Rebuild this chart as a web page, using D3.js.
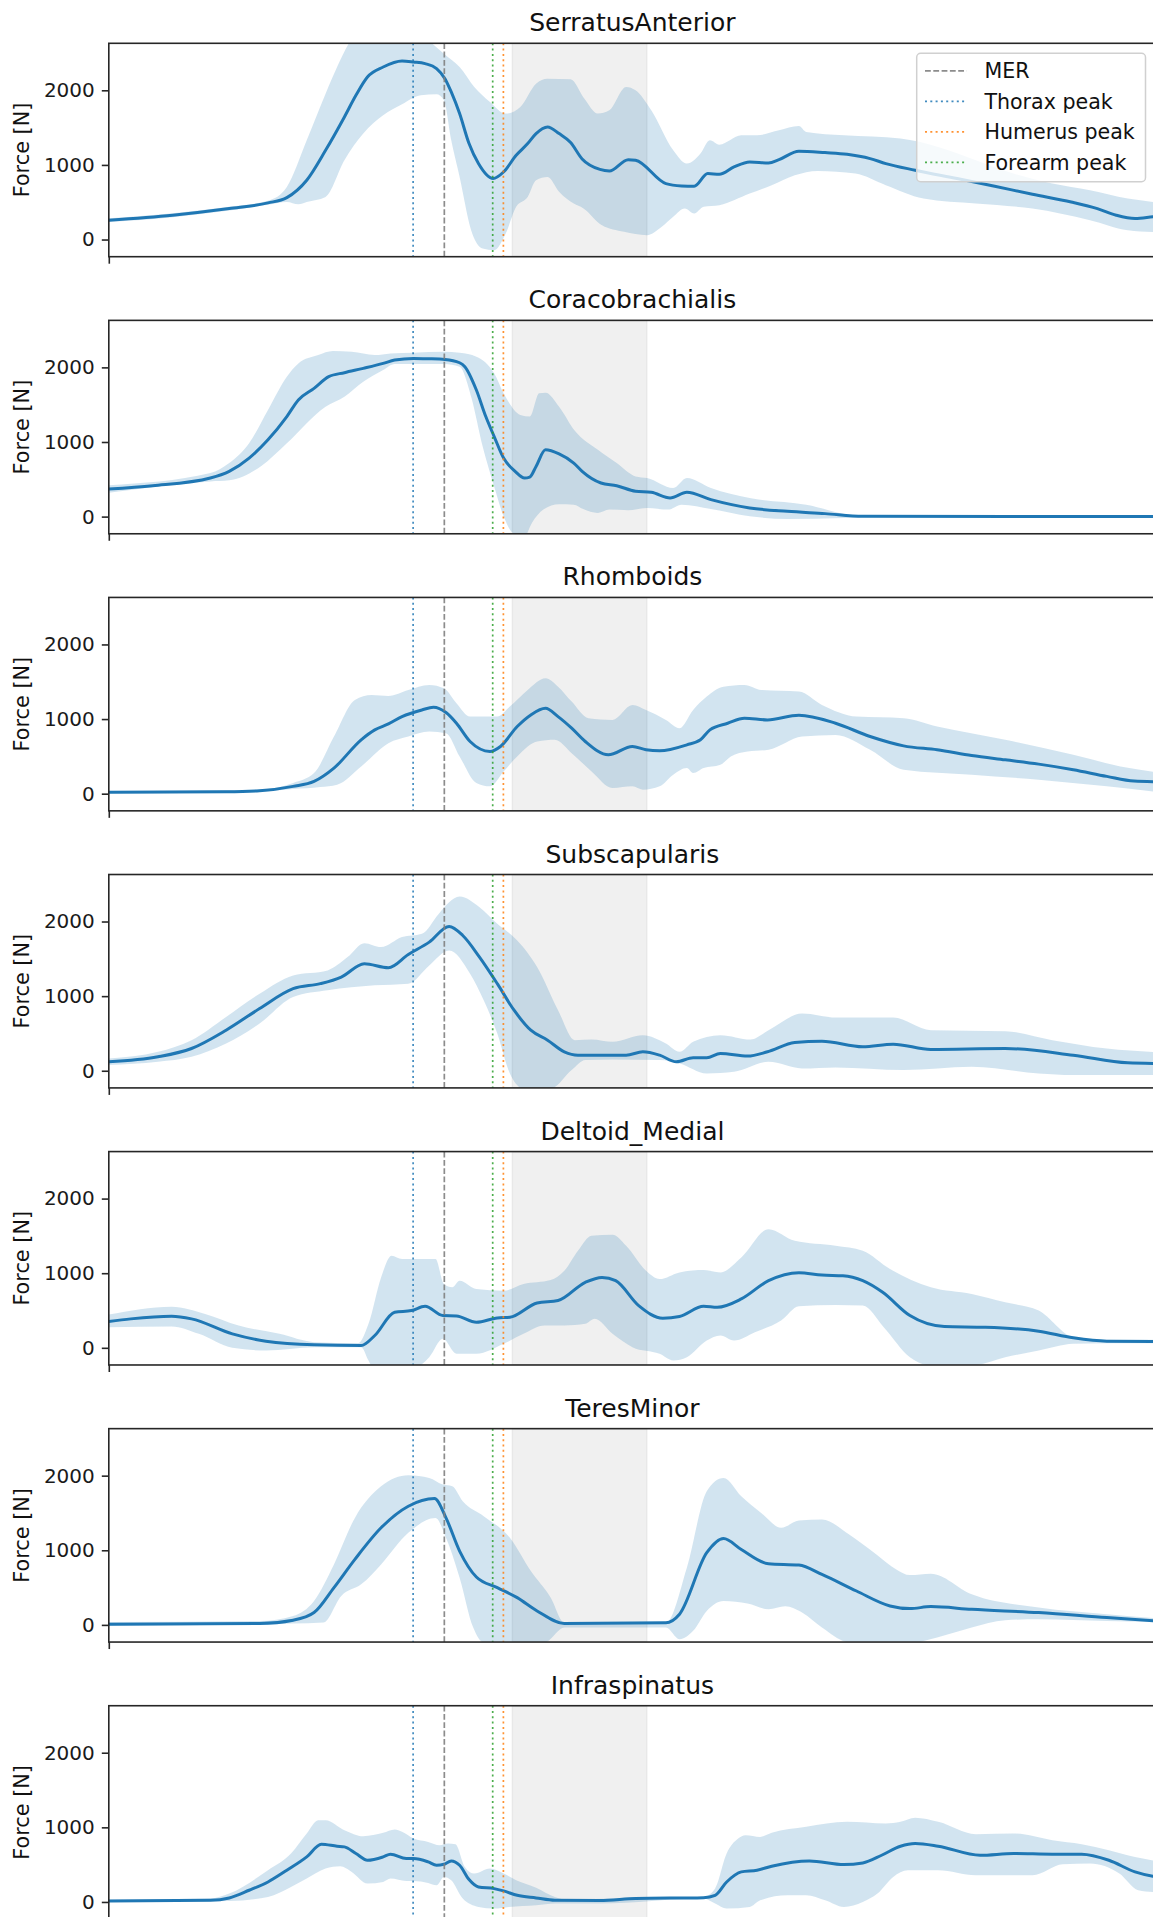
<!DOCTYPE html>
<html><head><meta charset="utf-8">
<script src="https://cdn.jsdelivr.net/npm/d3@7"></script>
<style>body{margin:0;background:#fff} svg{display:block} text{font-family:"DejaVu Sans",sans-serif}</style>
</head><body><svg id="chart" width="1153" height="1917"></svg>
<script>
// ---------- data ----------
const muscles = ["SerratusAnterior","Coracobrachialis","Rhomboids","Subscapularis","Deltoid_Medial","TeresMinor","Infraspinatus"];
const yTicks = [0, 1000, 2000];
const yDomain = [-230, 2630];
const eventNames = ["MER", "Thorax peak", "Humerus peak", "Forearm peak"];
const eventX = [32.04, 29.06, 37.68, 36.66];
const eventColors = ["#808080", "#1f77b4", "#ff7f0e", "#2ca02c"];
const shadedPhase = [38.53, 51.39];

const serratusMean = [[0,259],[6.1,326],[11.5,415],[15.2,491],[17.0,562],[18.9,795],[20.7,1196],[22.5,1643],[23.6,1933],[24.7,2179],[26.2,2312],[28.0,2393],[29.1,2379],[30.2,2357],[31.3,2290],[32.1,2156],[32.7,1978],[33.5,1688],[34.4,1286],[35.3,1018],[36.7,817],[37.7,906],[38.9,1129],[40.0,1286],[40.8,1420],[41.9,1509],[43.0,1420],[44.1,1300],[45.2,1080],[46.9,940],[47.8,920],[49.6,1071],[50.3,1063],[53.2,750],[54.7,719],[55.9,714],[57.2,884],[58.3,875],[59.7,973],[61.2,1040],[63.0,1027],[64.0,1071],[65.9,1183],[68.4,1165],[70.5,1143],[72.7,1085],[74.2,1018],[77.0,929],[81.0,817],[84.6,714],[88.2,607],[91.9,504],[94.4,415],[96.2,326],[98.0,281],[99.7,304],[100,308]];
const serratusHi = [[0,285],[6.1,352],[11.5,440],[15.2,520],[17.0,705],[18.9,1330],[20.7,1955],[21.8,2312],[22.9,2625],[24.3,2850],[26.2,2950],[28.0,2900],[30.0,2750],[30.9,2625],[32.0,2491],[33.5,2312],[34.9,2045],[36.4,1844],[37.9,1688],[39.3,1777],[40.8,2089],[41.9,2156],[44.1,2147],[45.4,1890],[46.7,1688],[47.8,1732],[49.4,2045],[50.3,2000],[51.8,1732],[53.9,1196],[55.2,1018],[56.5,1152],[57.4,1330],[58.3,1272],[60.4,1397],[61.9,1397],[64.0,1464],[65.9,1522],[66.6,1442],[70.2,1397],[75.6,1353],[79.2,1241],[82.8,1063],[86.4,884],[90.1,750],[93.7,661],[97.3,549],[100,500]];
const serratusLo = [[0,235],[6.1,300],[11.5,390],[15.2,465],[17.0,504],[18.1,473],[18.9,504],[20.7,571],[22.5,1063],[24.3,1420],[26.2,1665],[28.0,1813],[29.8,1933],[31.3,1946],[32.0,1866],[32.7,1330],[33.5,839],[34.6,125],[35.7,-121],[36.8,-143],[37.9,80],[38.9,438],[40.0,571],[40.8,795],[41.9,839],[43.0,640],[44.4,482],[45.3,420],[47.1,190],[49.2,103],[51.4,58],[52.8,170],[53.9,304],[55.0,415],[55.9,348],[56.8,438],[58.3,460],[61.2,616],[63.3,728],[65.5,862],[67.7,920],[71.3,884],[74.2,728],[77.8,549],[82.8,482],[88.2,415],[93.7,259],[97.3,125],[100,100]];

const coracoMean = [[0,370],[4.2,414],[9.7,517],[11.5,606],[13.4,784],[15.2,1029],[17.0,1341],[18.1,1563],[19.6,1719],[21.0,1875],[22.5,1929],[24.3,1987],[26.2,2053],[27.3,2098],[29.1,2120],[30.5,2116],[32.1,2107],[33.5,2062],[34.0,2009],[35.1,1697],[36.0,1341],[36.8,1073],[37.7,784],[38.8,606],[39.7,517],[40.2,530],[40.8,673],[41.7,895],[43.0,840],[44.4,717],[45.2,606],[47.0,450],[48.5,414],[50.3,339],[51.8,325],[53.6,249],[55.2,325],[57.5,227],[61.2,116],[64.8,71],[68.4,40],[72.0,4],[100,2]];
const coracoHi = [[0,420],[9.7,584],[11.5,717],[13.4,984],[15.2,1430],[17.0,1875],[18.1,2053],[20.0,2165],[21.4,2218],[23.2,2209],[25.4,2165],[26.9,2187],[29.1,2196],[32.0,2209],[33.5,2196],[35.1,2143],[36.8,1920],[37.7,1653],[39.3,1363],[40.2,1341],[41.1,1653],[41.7,1661],[43.0,1474],[44.5,1150],[46.7,895],[48.5,717],[50.3,539],[51.4,517],[53.9,383],[55.2,517],[57.5,383],[61.2,249],[66.6,160],[71.3,13],[72.0,8],[100,6]];
const coracoLo = [[0,320],[9.7,472],[11.5,486],[14.5,673],[17.0,984],[20.7,1474],[22.5,1608],[24.3,1808],[26.2,1964],[27.3,2045],[32.0,2045],[33.5,2009],[34.6,1608],[35.7,940],[36.8,405],[37.7,4],[38.6,-218],[39.7,-263],[40.4,-85],[41.5,94],[43.0,165],[44.4,160],[45.3,102],[46.7,49],[47.8,94],[49.6,85],[51.4,116],[53.4,94],[54.7,160],[57.5,102],[61.2,4],[64.8,-31],[70.2,-18],[73.8,0],[100,0]];

const rhomMean = [[0,18],[11.2,27],[14.4,40],[17.6,98],[19.6,165],[21.5,343],[24.1,722],[25.4,855],[26.7,935],[28.0,1033],[29.9,1122],[31.0,1158],[32.2,1087],[33.2,944],[34.5,699],[36.4,566],[37.4,633],[39.0,900],[40.3,1056],[41.7,1145],[42.9,1033],[44.2,878],[45.5,699],[47.7,521],[50.0,633],[51.3,588],[52.6,575],[55.2,655],[56.5,722],[57.4,855],[59.1,944],[60.7,1011],[62.9,989],[65.9,1051],[69.4,944],[72.7,766],[75.9,641],[79.1,588],[82.4,512],[85.6,454],[88.8,396],[92.1,321],[95.3,232],[97.9,169],[100,160]];
const rhomHi = [[0,35],[14.4,55],[17.6,143],[19.6,276],[21.5,766],[23.5,1256],[25.1,1323],[26.7,1310],[28.6,1390],[30.6,1457],[32.0,1412],[33.2,1212],[34.5,1033],[37.1,1033],[38.3,1167],[40.0,1390],[41.7,1546],[42.9,1434],[44.2,1234],[45.8,1011],[48.1,989],[50.0,1189],[51.3,1122],[53.2,989],[54.5,878],[55.8,1122],[57.1,1301],[58.7,1434],[60.7,1457],[62.3,1390],[65.9,1368],[68.1,1189],[71.4,1033],[75.9,1011],[79.1,900],[85.6,722],[92.1,521],[96.6,365],[100,290]];
const rhomLo = [[0,5],[14.4,25],[17.6,62],[20.2,89],[21.8,120],[24.1,365],[26.7,677],[28.6,766],[30.6,833],[32.2,811],[33.5,499],[35.1,143],[36.4,98],[37.7,298],[39.0,499],[40.9,699],[42.6,722],[44.2,543],[46.1,298],[48.1,76],[50.0,98],[51.0,53],[52.6,98],[53.9,254],[55.2,343],[55.8,276],[56.8,343],[58.4,387],[59.4,499],[61.0,566],[63.0,588],[66.2,766],[69.4,788],[72.7,588],[75.9,321],[82.4,254],[88.8,187],[95.3,98],[100,25]];

const subMean = [[0,120],[4.7,187],[7.9,298],[11.2,543],[14.4,833],[17.6,1100],[20.2,1167],[22.2,1256],[24.4,1434],[26.7,1381],[28.6,1559],[30.6,1724],[32.5,1933],[33.8,1813],[35.4,1523],[37.1,1167],[38.7,811],[40.3,543],[41.9,410],[43.5,254],[44.8,209],[49.4,209],[51.0,254],[52.6,209],[54.2,120],[55.8,174],[57.1,174],[58.4,232],[61.0,196],[62.9,254],[65.5,379],[68.1,396],[72.0,321],[74.9,356],[78.5,285],[85.6,298],[92.1,209],[97.3,107],[100,98]];
const subHi = [[0,165],[4.7,254],[7.9,410],[11.2,722],[14.4,1033],[17.6,1278],[20.9,1345],[22.8,1523],[24.4,1710],[26.0,1657],[28.0,1791],[29.9,1835],[31.5,2102],[32.5,2258],[33.5,2334],[35.4,2191],[37.1,1969],[39.0,1746],[40.9,1390],[42.9,811],[44.5,410],[46.1,419],[48.1,388],[51.0,477],[53.2,365],[54.5,254],[55.8,388],[58.4,477],[61.3,419],[63.0,543],[66.2,766],[69.4,713],[74.9,713],[78.5,543],[85.6,530],[90.1,410],[95.3,298],[100,250]];
const subLo = [[0,76],[4.7,120],[7.9,187],[11.2,365],[14.4,633],[17.6,989],[20.9,1078],[25.4,1145],[28.6,1167],[30.6,1412],[32.5,1612],[34.5,1301],[35.8,944],[37.1,499],[38.3,-36],[39.6,-236],[42.2,-236],[44.2,9],[45.5,143],[48.1,151],[52.6,143],[54.5,98],[57.1,-36],[59.7,-13],[63.0,120],[66.2,31],[69.4,45],[75.9,9],[82.4,53],[88.8,-36],[92.1,-58],[100,-58]];

const deltMean = [[0,352],[2.1,388],[6.0,423],[7.9,388],[11.8,187],[15.0,89],[19.6,40],[24.1,31],[25.4,165],[27.3,477],[28.9,499],[30.2,557],[31.9,432],[33.2,427],[35.1,343],[37.1,401],[38.3,410],[40.9,601],[42.9,633],[45.5,878],[47.1,944],[48.4,900],[50.6,566],[52.9,396],[54.5,419],[56.8,557],[58.1,543],[60.4,655],[63.0,900],[65.9,1007],[68.1,975],[70.1,966],[72.0,900],[73.9,744],[76.5,432],[79.8,285],[83.7,276],[88.8,223],[92.1,134],[95.3,89],[100,85]];
const deltHi = [[0,445],[6.0,552],[9.2,454],[12.4,298],[16.3,187],[19.6,76],[23.8,62],[24.8,321],[26.0,944],[27.0,1234],[28.0,1189],[31.2,1189],[32.0,855],[32.8,811],[33.5,900],[35.1,788],[37.7,766],[39.6,855],[42.2,909],[43.5,1033],[44.8,1301],[46.1,1501],[48.1,1514],[49.4,1368],[51.3,1033],[52.6,922],[54.5,1011],[56.8,1042],[58.4,1011],[60.4,1212],[63.0,1590],[65.5,1434],[69.4,1368],[72.0,1301],[74.6,1056],[78.5,811],[82.4,722],[85.6,610],[88.8,499],[92.1,143],[95.3,107],[100,107]];
const deltLo = [[0,276],[6.0,285],[8.6,187],[11.8,0],[15.0,-36],[19.6,9],[24.1,9],[24.8,-169],[25.4,-303],[28.6,-303],[30.6,-125],[31.9,120],[33.2,-80],[35.1,-80],[37.7,53],[39.6,187],[41.6,298],[43.5,298],[45.5,321],[46.4,388],[48.1,187],[50.0,9],[52.6,-80],[53.9,-169],[55.2,-125],[57.1,98],[58.4,165],[59.7,98],[61.7,209],[64.2,365],[65.9,557],[69.4,575],[72.0,566],[74.0,276],[76.5,-125],[78.5,-236],[82.4,-236],[85.6,-125],[88.8,-36],[92.1,53],[95.3,62],[100,62]];

const teresMean = [[0,9],[14.4,18],[17.6,62],[19.6,165],[21.5,499],[23.5,878],[26.0,1301],[28.6,1590],[31.1,1693],[32.2,1434],[33.5,989],[35.1,641],[37.1,499],[39.0,365],[40.9,187],[43.5,18],[53.2,27],[54.5,143],[57.1,967],[58.7,1158],[60.4,1011],[63.0,820],[65.9,802],[68.1,677],[71.4,454],[74.6,254],[76.5,218],[78.5,245],[82.4,209],[88.8,165],[95.3,98],[100,53]];
const teresHi = [[0,40],[14.4,53],[17.6,120],[19.6,321],[21.5,811],[23.5,1434],[26.0,1857],[28.6,2004],[30.6,1969],[31.9,1880],[32.8,1857],[33.8,1657],[35.8,1457],[38.3,1167],[40.3,722],[42.2,365],[43.5,31],[53.2,31],[55.2,766],[57.1,1791],[58.7,1969],[60.4,1724],[62.3,1501],[64.2,1301],[65.9,1399],[68.1,1412],[70.7,1212],[73.3,944],[75.2,744],[76.5,668],[78.5,686],[82.4,410],[88.8,232],[95.3,143],[100,89]];
const teresLo = [[0,-13],[17.6,18],[20.5,31],[22.2,388],[24.1,543],[26.0,811],[28.6,1234],[31.2,1434],[32.2,1167],[33.5,633],[34.8,-36],[35.8,-236],[41.6,-236],[43.5,-36],[53.2,-36],[54.5,-192],[55.8,-80],[57.1,187],[58.7,321],[61.0,285],[63.0,209],[64.6,249],[66.2,165],[68.1,-36],[70.7,-236],[75.9,-258],[79.1,-169],[82.4,-36],[85.6,62],[88.8,76],[95.3,53],[100,40]];

const infraMean = [[0,13],[9.7,22],[11.5,54],[13.4,157],[15.2,268],[17.0,425],[18.9,604],[20.3,774],[21.8,747],[22.5,738],[23.6,649],[24.7,559],[26.2,604],[26.9,640],[28.4,582],[29.1,582],[30.5,537],[31.3,492],[32.0,505],[32.7,550],[33.5,492],[34.4,300],[35.3,201],[36.8,179],[37.7,148],[39.0,89],[40.8,54],[42.6,22],[46.9,18],[50.3,45],[56.8,58],[57.9,89],[59.0,268],[60.4,403],[61.9,425],[63.3,479],[66.9,550],[70.2,501],[72.0,523],[73.8,626],[75.6,747],[77.0,783],[79.2,747],[83.2,626],[86.4,649],[90.1,640],[92.9,640],[95.5,559],[98.0,403],[99.7,345],[100,340]];
const infraHi = [[0,31],[9.7,45],[11.5,112],[15.2,425],[17.4,649],[18.9,917],[20.0,1096],[20.7,1096],[22.5,962],[24.3,881],[26.2,926],[27.3,971],[28.0,940],[29.1,850],[30.5,805],[31.6,761],[32.4,783],[33.1,774],[34.0,470],[34.9,380],[36.4,447],[37.7,380],[38.9,291],[40.8,192],[42.6,67],[43.7,31],[50.3,55],[56.8,67],[57.9,179],[59.0,649],[60.1,850],[60.8,895],[62.2,872],[63.3,926],[66.6,1007],[70.5,1074],[74.2,1051],[75.6,1074],[77.0,1128],[79.2,1074],[82.8,908],[86.4,917],[90.1,828],[92.9,774],[95.5,694],[98.0,604],[100,550]];
const infraLo = [[0,0],[11.5,13],[15.2,67],[17.4,201],[18.9,313],[20.7,447],[22.1,479],[23.2,403],[24.7,246],[26.2,268],[26.9,313],[28.4,282],[29.1,282],[30.5,255],[31.3,224],[32.0,336],[32.7,291],[33.8,45],[35.3,-67],[36.8,-89],[38.2,-67],[40.8,-45],[42.6,-22],[46.9,-22],[56.8,45],[57.9,-22],[59.0,-89],[61.2,-67],[62.2,22],[64.8,89],[66.6,89],[68.4,22],[70.2,-67],[72.0,0],[73.4,112],[74.9,336],[76.3,425],[79.2,425],[82.8,358],[88.2,358],[91.1,505],[93.7,514],[96.5,380],[98.3,157],[100,130]];

const meanSeries = [serratusMean, coracoMean, rhomMean, subMean, deltMean, teresMean, infraMean];
const hiSeries = [serratusHi, coracoHi, rhomHi, subHi, deltHi, teresHi, infraHi];
const loSeries = [serratusLo, coracoLo, rhomLo, subLo, deltLo, teresLo, infraLo];

// ---------- layout ----------
const X0 = 108.8, X1 = 1156, TOP0 = 43.3, PITCH = 277.07, PH = 213.4;
const AX = "#262626";
const svg = d3.select("#chart");
const x = d3.scaleLinear().domain([0, 100]).range([X0, X1]);
const defs = svg.append("defs");

function styleFor(k) {
  return k === 0 ? {dash: "5.8,2.5", w: 1.7, op: 0.9} : {dash: "2,3.3", w: 1.7, op: 0.85};
}

muscles.forEach((name, i) => {
  const top = TOP0 + i * PITCH;
  const y = d3.scaleLinear().domain(yDomain).range([top + PH, top]);
  const g = svg.append("g");
  defs.append("clipPath").attr("id", "clip" + i).append("rect")
    .attr("x", X0).attr("y", top).attr("width", X1 - X0).attr("height", PH);
  const pg = g.append("g").attr("clip-path", `url(#clip${i})`);

  // shaded phase
  pg.append("rect")
    .attr("x", x(shadedPhase[0])).attr("width", x(shadedPhase[1]) - x(shadedPhase[0]))
    .attr("y", top).attr("height", PH)
    .attr("fill", "#808080").attr("fill-opacity", 0.12)
    .attr("stroke", "#808080").attr("stroke-opacity", 0.1).attr("stroke-width", 1.5);

  // band
  const line = d3.line().x(d => x(d[0])).y(d => y(d[1])).curve(d3.curveMonotoneX);
  const hiP = line(hiSeries[i]);
  const loP = line(loSeries[i].slice().reverse());
  pg.append("path").attr("d", hiP + "L" + loP.slice(1) + "Z")
    .attr("fill", "#1f77b4").attr("fill-opacity", 0.2).attr("stroke", "none");

  // mean
  pg.append("path").attr("d", line(meanSeries[i]))
    .attr("fill", "none").attr("stroke", "#1f77b4").attr("stroke-width", 3)
    .attr("stroke-linejoin", "round").attr("stroke-linecap", "round");

  // event lines
  eventX.forEach((ev, k) => {
    const s = styleFor(k);
    pg.append("line").attr("x1", x(ev)).attr("x2", x(ev)).attr("y1", top).attr("y2", top + PH)
      .attr("stroke", eventColors[k]).attr("stroke-width", s.w).attr("stroke-opacity", s.op)
      .attr("stroke-dasharray", s.dash);
  });

  // y axis
  const ya = g.append("g").attr("transform", `translate(${X0},0)`)
    .call(d3.axisLeft(y).tickValues(yTicks).tickFormat(d3.format("d")).tickSize(7).tickPadding(7));
  ya.select(".domain").remove();
  ya.selectAll(".tick line").attr("stroke", AX).attr("stroke-width", 1.6);
  ya.selectAll(".tick text").attr("font-size", "20px").attr("fill", "#1a1a1a")
    .attr("font-family", "DejaVu Sans, sans-serif");

  // x axis (single tick, no label)
  const xa = g.append("g").attr("transform", `translate(0,${top + PH})`)
    .call(d3.axisBottom(x).tickValues([0]).tickFormat("").tickSize(7));
  xa.select(".domain").remove();
  xa.selectAll(".tick line").attr("stroke", AX).attr("stroke-width", 1.6);

  // spines
  g.append("rect").attr("x", X0).attr("y", top).attr("width", X1 - X0).attr("height", PH)
    .attr("fill", "none").attr("stroke", AX).attr("stroke-width", 1.6);

  // title
  g.append("text").attr("x", (X0 + X1) / 2).attr("y", top - 12)
    .attr("text-anchor", "middle").attr("font-size", "25px").attr("fill", "#111").text(name);

  // y label
  g.append("text").attr("transform", `translate(29,${top + PH / 2}) rotate(-90)`)
    .attr("text-anchor", "middle").attr("font-size", "20.8px").attr("fill", "#111").text("Force [N]");

  // legend in first panel
  if (i === 0) {
    const lg = g.append("g");
    lg.append("rect").attr("x", 916.7).attr("y", 53.3).attr("width", 228.8).attr("height", 128.4)
      .attr("rx", 4).attr("fill", "#fff").attr("fill-opacity", 0.8)
      .attr("stroke", "#d0d0d0").attr("stroke-width", 1.5);
    eventNames.forEach((nm, k) => {
      const cy = 70.8 + k * 30.5;
      const s = styleFor(k);
      lg.append("line").attr("x1", 925).attr("x2", 966.6).attr("y1", cy).attr("y2", cy)
        .attr("stroke", eventColors[k]).attr("stroke-width", s.w).attr("stroke-opacity", s.op)
        .attr("stroke-dasharray", s.dash);
      lg.append("text").attr("x", 984.4).attr("y", cy + 7.4).attr("font-size", "20.6px")
        .attr("fill", "#111").text(nm);
    });
  }
});
</script>
</body></html>
